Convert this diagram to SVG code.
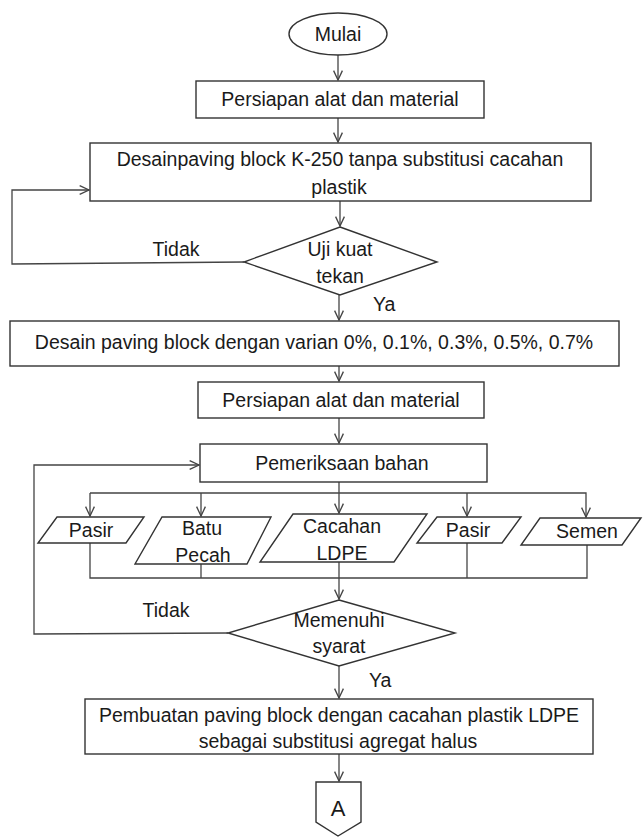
<svg xmlns="http://www.w3.org/2000/svg" width="644" height="837" viewBox="0 0 644 837">
<style>
.s{fill:#fff;stroke:#333;stroke-width:1.4}
.c{fill:none;stroke:#444;stroke-width:1.3}
text{font-family:"Liberation Sans",Arial,sans-serif;font-size:19.5px;fill:#1a1a1a;text-anchor:middle}
.l{text-anchor:start}
</style>
<defs>
<marker id="ar" markerUnits="userSpaceOnUse" markerWidth="11" markerHeight="11" viewBox="0 0 10 10" refX="9.5" refY="5" orient="auto">
<path d="M1,1 L9.5,5 L1,9" fill="none" stroke="#444" stroke-width="1.2"/>
</marker>
</defs>
<rect width="644" height="837" fill="#fff"/>
<g id="connectors" class="c">
<path d="M338,55 V80" marker-end="url(#ar)"/>
<path d="M338,118 V142" marker-end="url(#ar)"/>
<path d="M340,201 V226" marker-end="url(#ar)"/>
<path d="M339,295 V320" marker-end="url(#ar)"/>
<path d="M244,262 L12,264 V190 H89" marker-end="url(#ar)"/>
<path d="M339,366 V381" marker-end="url(#ar)"/>
<path d="M339,418 V443" marker-end="url(#ar)"/>
<path d="M339,482 V513" marker-end="url(#ar)"/>
<path d="M90,493 H586 V517" marker-end="url(#ar)"/>
<path d="M90,493 V516" marker-end="url(#ar)"/>
<path d="M201,493 V516" marker-end="url(#ar)"/>
<path d="M467,493 V516" marker-end="url(#ar)"/>
<path d="M90,543 V578 H587 V545"/>
<path d="M201,564 V578"/>
<path d="M467,543 V578"/>
<path d="M339,562 V599" marker-end="url(#ar)"/>
<path d="M228,633 L34,634 V465 H199" marker-end="url(#ar)"/>
<path d="M339,666 V698" marker-end="url(#ar)"/>
<path d="M339,754 V781" marker-end="url(#ar)"/>
</g>
<g id="mulai">
<ellipse class="s" cx="338" cy="34" rx="49" ry="21"/>
<text x="338" y="41">Mulai</text>
</g>
<g id="persiapan1">
<rect class="s" x="196" y="81" width="288" height="37"/>
<text x="340" y="106">Persiapan alat dan material</text>
</g>
<g id="desain1">
<rect class="s" x="90" y="143" width="501" height="58"/>
<text x="340" y="166">Desainpaving block K-250 tanpa substitusi cacahan</text>
<text x="339" y="194">plastik</text>
</g>
<g id="uji">
<polygon class="s" points="340,227 437,262 340,295 244,262"/>
<text x="340" y="256">Uji kuat</text>
<text x="340" y="283">tekan</text>
</g>
<text x="176" y="256">Tidak</text>
<text class="l" x="373" y="311">Ya</text>
<g id="desain2">
<rect class="s" x="10" y="321" width="609" height="45"/>
<text x="314" y="349">Desain paving block dengan varian 0%, 0.1%, 0.3%, 0.5%, 0.7%</text>
</g>
<g id="persiapan2">
<rect class="s" x="198" y="382" width="286" height="36"/>
<text x="341" y="407">Persiapan alat dan material</text>
</g>
<g id="pemeriksaan">
<rect class="s" x="200" y="444" width="287" height="38"/>
<text x="342" y="470">Pemeriksaan bahan</text>
</g>
<g id="pasir1">
<polygon class="s" points="57,517 144,517 126,543 38,543"/>
<text x="91" y="537">Pasir</text>
</g>
<g id="batu">
<polygon class="s" points="162,517 271,517 247,564 135,564"/>
<text x="202" y="535">Batu</text>
<text x="203" y="562">Pecah</text>
</g>
<g id="cacahan">
<polygon class="s" points="293,514 427,514 394,562 260,562"/>
<text x="342" y="533">Cacahan</text>
<text x="342" y="560">LDPE</text>
</g>
<g id="pasir2">
<polygon class="s" points="437,517 521,517 502,543 417,543"/>
<text x="468" y="537">Pasir</text>
</g>
<g id="semen">
<polygon class="s" points="540,518 641,518 622,545 521,545"/>
<text x="587" y="538">Semen</text>
</g>
<g id="memenuhi">
<polygon class="s" points="339,600 455,633 339,666 228,633"/>
<text x="339" y="627">Memenuhi</text>
<text x="339" y="653">syarat</text>
</g>
<text x="166" y="617">Tidak</text>
<text class="l" x="369" y="687">Ya</text>
<g id="pembuatan">
<rect class="s" x="85" y="699" width="508" height="55"/>
<text x="339" y="722">Pembuatan paving block dengan cacahan plastik LDPE</text>
<text x="338" y="748">sebagai substitusi agregat halus</text>
</g>
<g id="a">
<polygon class="s" points="316,782 361,782 361,822 338,836 316,822"/>
<text x="338" y="816" style="font-size:22px">A</text>
</g>
</svg>
